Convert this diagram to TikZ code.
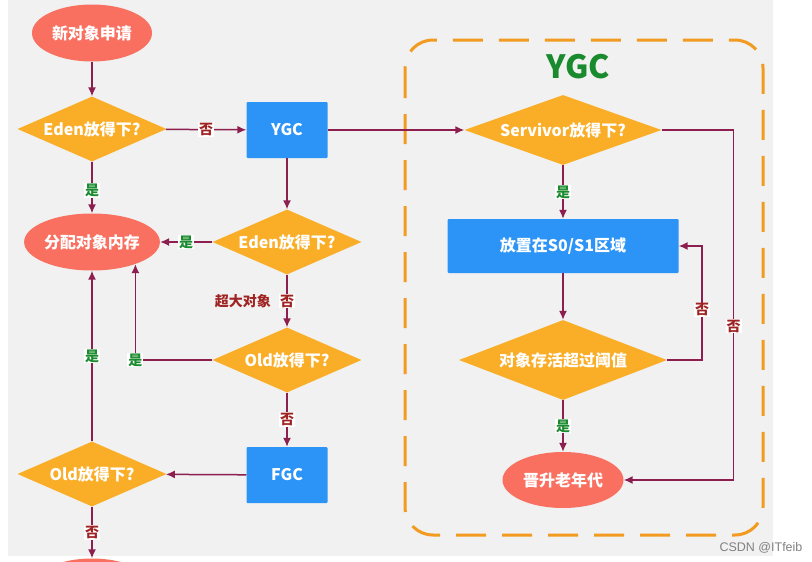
\documentclass[tikz,border=0pt]{standalone}
\usepackage{fontspec}
\setmainfont{Noto Sans CJK SC}
\newfontfamily\wmfont{Liberation Sans}
\usepackage{tikz}
\usetikzlibrary{shapes.geometric, arrows.meta, positioning}
\definecolor{bgray}{RGB}{240,241,240}
\definecolor{salmon}{RGB}{249,112,96}
\definecolor{amber}{RGB}{250,174,40}
\definecolor{azure}{RGB}{45,148,247}
\definecolor{wine}{RGB}{140,30,80}
\definecolor{brick}{RGB}{160,35,35}
\definecolor{leaf}{RGB}{25,138,45}
\definecolor{tangerine}{RGB}{243,154,32}
\tikzstyle{enode} = [ellipse, fill=salmon, text=white, font=\bfseries\fontsize{16}{18}\selectfont, minimum width=120pt, minimum height=57pt, inner sep=0pt]
\tikzstyle{dnode} = [diamond, fill=amber, text=white, font=\bfseries\fontsize{16}{18}\selectfont, inner sep=0pt, shape aspect=2.6, minimum width=149pt, minimum height=65pt]
\tikzstyle{rnode} = [rectangle, rounded corners=1pt, fill=azure, text=white, font=\bfseries\fontsize{16}{18}\selectfont, minimum width=81pt, minimum height=56pt]
\tikzstyle{line} = [draw, wine, line width=1.5pt, -{Latex[length=9pt, width=8pt]}]
\tikzstyle{yeslabel} = [fill=white, text=leaf, font=\bfseries\fontsize{14}{14}\selectfont, inner sep=1pt]
\tikzstyle{nolabel} = [fill=white, text=brick, font=\bfseries\fontsize{14}{14}\selectfont, inner sep=1pt]
\tikzstyle{ygcbox} = [draw, tangerine, line width=3pt, dash pattern=on 30pt off 16pt, rounded corners=28pt]

\begin{document}
\begin{tikzpicture}[x=1pt, y=-1pt]
			\clip (0, 0) rectangle (812, 562);
			\useasboundingbox (0, 0) rectangle (812, 562);
			\fill [bgray] (8, 0) rectangle (773, 556);
			\path [ygcbox] (405, 40) rectangle (763, 535);
			\node [text=leaf, font=\bfseries\fontsize{32}{32}\selectfont] (ygctitle) at (578, 67) {YGC};

			\node [enode] (new) at (92, 33) {新对象申请};
			\node [dnode] (eden) at (92, 129) {Eden放得下?};
			\node [rnode] (ygc) at (287, 130) {YGC};
			\node [enode] (alloc) at (92, 242) {分配对象内存};
			\node [dnode] (eden2) at (287, 242) {Eden放得下?};
			\node [dnode] (old) at (287, 360) {Old放得下?};
			\node [rnode] (fgc) at (287, 475) {FGC};
			\node [dnode] (old2) at (92, 474) {Old放得下?};
			\node [enode] (full) at (92, 587) {};
			\node [dnode, minimum width=197pt, minimum height=70pt] (surv) at (563, 130) {Servivor放得下?};
			\node [rnode, minimum width=231pt, minimum height=54pt] (s01) at (563, 246) {放置在S0/S1区域};
			\node [dnode, minimum width=208pt, minimum height=80pt] (age) at (563, 360) {对象存活超过阈值};
			\node [enode, minimum width=121pt, minimum height=56pt] (promote) at (563, 480) {晋升老年代};
			\node [text=gray, font=\wmfont\fontsize{12.5}{13}\selectfont] (csdn) at (761, 548) {CSDN @ITfeib};

			\path [line] (new) -- (eden);
			\path [line] (eden) -- node [nolabel] {否} (ygc);
			\path [line] (eden) -- node [yeslabel, pos=0.55] {是} (alloc);
			\path [line] (ygc) -- (eden2);
			\path [line] (eden2) -- node [yeslabel] {是} (alloc);
			\path [line] (eden2) -- node [nolabel] {否} node [midway, left=12pt, text=brick, font=\bfseries\fontsize{14}{14}\selectfont] {超大对象} (old);
			\path [line] (old.west) -| node [yeslabel] {是} (alloc.-27);
			\path [line] (old) -- node [nolabel] {否} (fgc);
			\path [line] (fgc) -- (old2);
			\path [line] (old2) -- node [yeslabel] {是} (alloc);
			\path [line] (old2) -- node [nolabel] {否} (full);
			\path [line] (ygc) -- (surv);
			\path [line] (surv) -- node [yeslabel] {是} (s01);
			\path [line] (s01) -- (age);
			\path [line] (age) -- node [yeslabel] {是} (promote);
			\path [line] (age.east) -- ++(35, 0) |- node [nolabel, pos=0.22] {否} (s01.east);
			\path [line] (surv.east) -- ++(72, 0) |- node [nolabel, pos=0.28] {否} (promote.east);
		\end{tikzpicture}
\end{document}
